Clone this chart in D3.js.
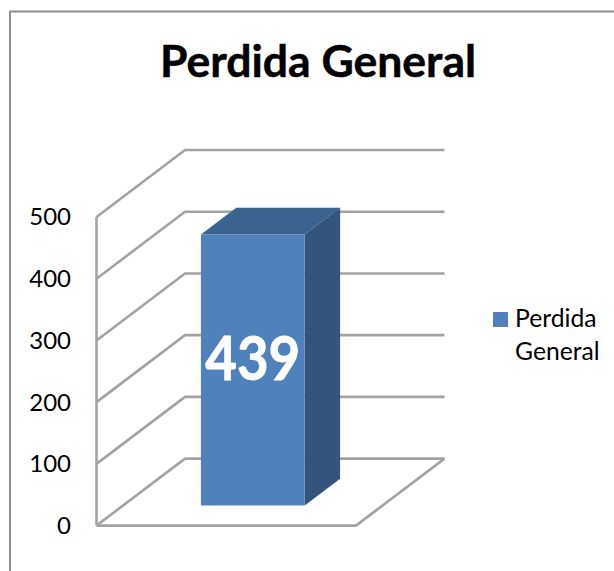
<!DOCTYPE html>
<html>
<head>
<meta charset="utf-8">
<script src="https://cdn.jsdelivr.net/npm/d3@7"></script>
<style>
html,body{margin:0;padding:0;background:#fff;overflow:hidden}
svg{display:block}
text{font-family:Lato,"Open Sans",sans-serif}
</style>
</head>
<body>
<svg id="c" width="614" height="571"></svg>
<script>
const categories = ["Perdida General"];
const seriesName = ["Perdida", "General"];
const values = [439];
const tickValues = [0, 100, 200, 300, 400, 500];
const titleText = "Perdida General";

const svg = d3.select("#c");
const gridColor = "#a3a3a3";

// Chart frame, cropped by the right and bottom of the picture
svg.append("path")
  .attr("d", d3.line()([[10, 575], [10, 11.5], [618, 11.5]]))
  .attr("fill", "none").attr("stroke", "#8f8f8f").attr("stroke-width", 2);

svg.append("text").attr("x", 318).attr("y", 77).attr("text-anchor", "middle")
  .attr("font-size", 44.5).attr("font-weight", 700).attr("fill", "#000")
  .attr("stroke", "#000").attr("stroke-width", 0.5).text(titleText);

// Scales: value height, width along the floor, depth into the floor
const y = d3.scaleLinear().domain([0, 500]).range([525.6, 217]);
const x = d3.scaleBand().domain(categories).range([96.5, 356]).paddingInner(0).paddingOuter(0.75);
const depth = d3.scaleLinear().domain([0, 1]).range([0, 1]);
const depthX = 88.5, depthY = -67;
const proj = (px, v, t) => [px + depthX * depth(t), y(v) + depthY * depth(t)];
const line = d3.line();

const grid = svg.append("g").attr("fill", "none").attr("stroke", gridColor).attr("stroke-width", 2.6).attr("stroke-linejoin", "miter");
const x0 = x.range()[0], x1 = x.range()[1];

grid.selectAll("path.g").data(tickValues).join("path").attr("class", "g")
  .attr("d", v => line([proj(x0, v, 0), proj(x0, v, 1), proj(x1, v, 1)]));
grid.append("path").attr("d", line([proj(x0, 0, 0), proj(x0, 500, 0)]));
grid.append("path").attr("d", line([proj(x0, 0, 0), proj(x1, 0, 0), proj(x1, 0, 1)]));

// Tick labels
const axis = d3.axisLeft(y).tickValues(tickValues).tickSize(0).tickPadding(25.5);
const ag = svg.append("g").attr("transform", `translate(${x0},0)`).call(axis);
ag.select(".domain").remove();
ag.selectAll("text").attr("font-size", 24).attr("font-family", "Lato").attr("fill", "#000").attr("dy", "0.33em");

// 3D column
const t0 = 0.3, t1 = 0.7;
const bars = svg.append("g").selectAll("g").data(values).join("g");
const L = (d, i) => x(categories[i]), R = (d, i) => x(categories[i]) + x.bandwidth();
bars.append("path").attr("fill", "#3b6390")
  .attr("d", (d, i) => line([proj(L(d, i), d, t0), proj(L(d, i), d, t1), proj(R(d, i), d, t1), proj(R(d, i), d, t0)]) + "Z");
bars.append("path").attr("fill", "#33547d")
  .attr("d", (d, i) => line([proj(R(d, i), 0, t0), proj(R(d, i), d, t0), proj(R(d, i), d, t1), proj(R(d, i), 0, t1)]) + "Z");
bars.append("path").attr("fill", "#4f81bd")
  .attr("d", (d, i) => line([proj(L(d, i), 0, t0), proj(L(d, i), d, t0), proj(R(d, i), d, t0), proj(R(d, i), 0, t0)]) + "Z");
bars.append("text").attr("text-anchor", "middle").attr("fill", "#fff")
  .attr("stroke", "#fff").attr("stroke-width", 0.8)
  .attr("font-size", 62).attr("font-weight", 700)
  .attr("textLength", 95).attr("lengthAdjust", "spacingAndGlyphs")
  .attr("x", (d, i) => (proj(L(d, i), d, t0)[0] + proj(R(d, i), d, t0)[0]) / 2)
  .attr("y", 379.5).text(d => d);

// Legend
const legend = svg.append("g");
legend.append("rect").attr("x", 493).attr("y", 312).attr("width", 15).attr("height", 15).attr("fill", "#4f81bd");
legend.selectAll("text").data(seriesName).join("text")
  .attr("x", 515).attr("y", (d, i) => 327 + i * 32.5)
  .attr("font-size", 24.7).attr("fill", "#000").text(d => d);
</script>
</body>
</html>
